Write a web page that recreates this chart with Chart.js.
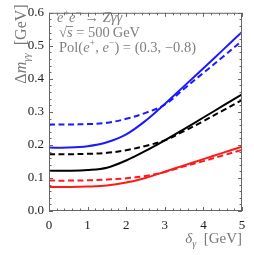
<!DOCTYPE html>
<html><head><meta charset="utf-8">
<script src="https://cdn.jsdelivr.net/npm/chart.js@4"></script>
<style>html,body{margin:0;padding:0;background:#fff}#w{width:254px;height:255px;position:relative}</style>
</head><body><div id="w"><canvas id="c"></canvas></div>
<script>
const xs = [0, 0.5, 1, 1.5, 2, 2.5, 3, 3.5, 4, 4.5, 5];
const blueSolid  = [0.192, 0.192, 0.196, 0.208, 0.232, 0.273, 0.324, 0.378, 0.432, 0.487, 0.542];
const blueDashed = [0.262, 0.262, 0.263, 0.267, 0.279, 0.297, 0.322, 0.370, 0.418, 0.466, 0.515];
const blackSolid  = [0.122, 0.122, 0.124, 0.131, 0.153, 0.182, 0.214, 0.248, 0.283, 0.318, 0.353];
const blackDashed = [0.172, 0.172, 0.173, 0.176, 0.184, 0.197, 0.214, 0.242, 0.272, 0.304, 0.336];
const redSolid  = [0.073, 0.073, 0.074, 0.077, 0.086, 0.100, 0.119, 0.138, 0.157, 0.176, 0.195];
const redDashed = [0.092, 0.092, 0.093, 0.095, 0.099, 0.106, 0.118, 0.135, 0.151, 0.168, 0.185];
const xTicks = [0, 1, 2, 3, 4, 5];
const yTicks = [0.0, 0.1, 0.2, 0.3, 0.4, 0.5, 0.6];

function pts(ys){ return xs.map((x,i)=>({x:x,y:ys[i]})); }
function ds(ys,color,dashed){
  return {data:pts(ys),borderColor:color,borderWidth:2,pointRadius:0,fill:false,
    tension:0.35,borderDash:dashed?[6,3.5]:[]};
}
const SERIF = '"Liberation Serif", "DejaVu Serif", serif';
function rich(ctx, segs, x, y, size){
  for (const s of segs){
    let fs = size, dy = 0;
    if (s.sup){ fs = size*0.68; dy = -size*0.38; }
    if (s.sub){ fs = size*0.68; dy = size*0.25; }
    ctx.font = (s.i?'italic ':'') + fs + 'px ' + SERIF;
    ctx.fillText(s.t, x, y+dy);
    x += ctx.measureText(s.t).width + (s.sp||0);
  }
  return x;
}
function richWidth(ctx, segs, size){
  let w=0;
  for (const s of segs){
    let fs = (s.sup||s.sub)? size*0.68 : size;
    ctx.font = (s.i?'italic ':'') + fs + 'px ' + SERIF;
    w += ctx.measureText(s.t).width + (s.sp||0);
  }
  return w;
}
const deco = {
  id:'deco',
  afterDraw(chart){
    const ctx = chart.ctx, a = chart.chartArea, xS = chart.scales.x, yS = chart.scales.y;
    ctx.save();
    ctx.strokeStyle = '#666'; ctx.lineWidth = 1;
    ctx.strokeRect(a.left+0.5, a.top+0.5, a.right-a.left-1, a.bottom-a.top-1);
    ctx.beginPath();
    for (let i=0;i<=25;i++){
      const v = i*0.2, px = Math.round(xS.getPixelForValue(v))+0.5;
      const L = (i%5===0)?4:2.5;
      ctx.moveTo(px, a.bottom); ctx.lineTo(px, a.bottom-L);
      ctx.moveTo(px, a.top); ctx.lineTo(px, a.top+L);
    }
    for (let i=0;i<=30;i++){
      const v = i*0.02, py = Math.round(yS.getPixelForValue(v))+0.5;
      const L = (i%5===0)?4:2.5;
      ctx.moveTo(a.left, py); ctx.lineTo(a.left+L, py);
      ctx.moveTo(a.right, py); ctx.lineTo(a.right-L, py);
    }
    ctx.stroke();
    // annotation
    ctx.fillStyle = '#808080'; ctx.textBaseline = 'alphabetic'; ctx.textAlign='left';
    const fs = 14.5, x0 = a.left+10;
    rich(ctx,[{t:'e',i:1},{t:'+',sup:1},{t:'e',i:1},{t:'\u2212',sup:1},{t:' \u2192 '},{t:'Z\u03b3\u03b3',i:1}], x0-2, 22, fs);
    ctx.font = fs+'px '+SERIF;
    ctx.fillText('\u221a', x0, 37);
    const rw = ctx.measureText('\u221a').width;
    ctx.font = 'italic '+fs+'px '+SERIF;
    ctx.fillText('s', x0+rw, 37);
    const sw = ctx.measureText('s').width;
    ctx.strokeStyle = '#808080'; ctx.lineWidth=0.9;
    ctx.beginPath(); ctx.moveTo(x0+rw-0.5, 26.5); ctx.lineTo(x0+rw+sw+0.5, 26.5); ctx.stroke();
    rich(ctx,[{t:' = 500\u2009GeV'}], x0+rw+sw, 37, fs);
    rich(ctx,[{t:'Pol('},{t:'e',i:1},{t:'+',sup:1},{t:', '},{t:'e',i:1},{t:'\u2212',sup:1},{t:') = (0.3, \u22120.8)'}], x0, 52, fs);
    // y title
    ctx.fillStyle = '#777';
    const ysegs = [{t:'\u0394'},{t:'m',i:1},{t:'\u03b3\u03b3',i:1,sub:1},{t:'  [GeV]'}];
    const yw = richWidth(ctx, ysegs, 16);
    ctx.translate(26, 44);
    ctx.rotate(-Math.PI/2);
    rich(ctx, ysegs, -yw/2, 0, 16);
    ctx.restore();
    ctx.save();
    ctx.fillStyle = '#777'; ctx.textBaseline='alphabetic';
    const xsegs = [{t:'\u03b4',i:1},{t:'\u03b3',i:1,sub:1},{t:'  [GeV]'}];
    const xw = richWidth(ctx, xsegs, 15);
    rich(ctx, xsegs, a.right - xw, 243, 15);
    ctx.restore();
  }
};
new Chart(document.getElementById('c'), {
  type:'line',
  data:{datasets:[
    ds(blueSolid,'#1a1aff',false), ds(blueDashed,'#1a1aff',true),
    ds(blackSolid,'#000',false), ds(blackDashed,'#000',true),
    ds(redSolid,'#ff1a1a',false), ds(redDashed,'#ff1a1a',true)
  ]},
  options:{
    responsive:true, maintainAspectRatio:false, animation:false,
    layout:{padding:{top:7,right:12,left:0,bottom:0}},
    plugins:{legend:{display:false},tooltip:{enabled:false}},
    scales:{
      x:{type:'linear',min:0,max:5,
        afterBuildTicks(s){ s.ticks = xTicks.map(v=>({value:v})); },
        afterFit(s){ s.height = 44; },
        grid:{display:false,drawTicks:false}, border:{display:false},
        ticks:{padding:7,color:'#222',font:{family:SERIF,size:13},callback:v=>String(v)}},
      y:{type:'linear',min:0,max:0.6,
        afterBuildTicks(s){ s.ticks = yTicks.map(v=>({value:v})); },
        afterFit(s){ s.width = 49; },
        grid:{display:false,drawTicks:false}, border:{display:false},
        ticks:{padding:5,color:'#222',font:{family:SERIF,size:13},callback:v=>Number(v).toFixed(1)}}
    }
  },
  plugins:[deco]
});
</script></body></html>
